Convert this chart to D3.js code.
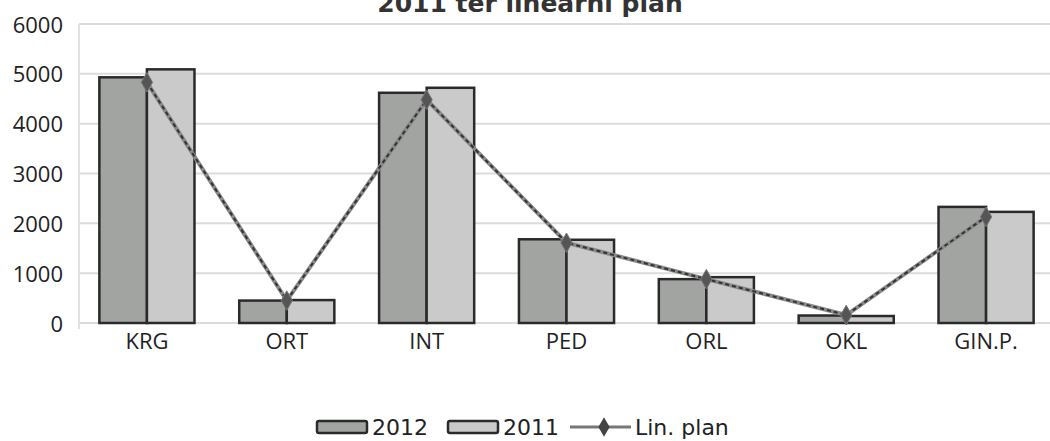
<!DOCTYPE html>
<html>
<head>
<meta charset="utf-8">
<script src="https://cdn.jsdelivr.net/npm/d3@7"></script>
<style>
  body { margin: 0; background: #fff; }
  svg { display: block; }
  text { font-family: "Open Sans", "DejaVu Sans", sans-serif; fill: #222; }
</style>
</head>
<body>
<svg id="chart" width="1050" height="441"></svg>
<script>
// Departments and yearly counts
const categories = ["KRG", "ORT", "INT", "PED", "ORL", "OKL", "GIN.P."];
const values2012 = [4930, 450, 4620, 1680, 880, 150, 2330];
const values2011 = [5090, 460, 4720, 1670, 920, 140, 2230];
const planValues = [4830, 450, 4480, 1610, 880, 160, 2130];
const yTicks = [0, 1000, 2000, 3000, 4000, 5000, 6000];
const titleText = "2011 ter linearni plan";
const seriesNames = ["2012", "2011", "Lin. plan"];

(function () {
const svg = d3.select("#chart");
const plotLeft = 77, plotRight = 1056, plotTop = 24, plotBottom = 323;

const x = d3.scaleBand().domain(categories).range([plotLeft, plotRight]).paddingInner(0.32).paddingOuter(0.16);
const xSub = d3.scaleBand().domain(["2012", "2011"]).range([0, x.bandwidth()]);
const y = d3.scaleLinear().domain([0, 6000]).range([plotBottom, plotTop]);

// Title (top partly clipped by the frame)
svg.append("text")
  .attr("x", 530).attr("y", 12)
  .attr("text-anchor", "middle")
  .style("font-family", "'DejaVu Sans', sans-serif")
  .style("font-weight", "bold").style("font-size", "25px")
  .style("fill", "#333")
  .text(titleText);

// Gridlines
svg.append("g").selectAll("line").data(yTicks).join("line")
  .attr("x1", plotLeft + 2).attr("x2", 1050)
  .attr("y1", d => y(d)).attr("y2", d => y(d))
  .attr("stroke", "#dcdcdc").attr("stroke-width", 2);

// Left frame edge
svg.append("line").attr("x1", plotLeft + 2).attr("x2", plotLeft + 2).attr("y1", plotTop).attr("y2", plotBottom + 6)
  .attr("stroke", "#e2e2e2").attr("stroke-width", 2);

// Y axis labels
const yAxis = d3.axisLeft(y).tickValues(yTicks).tickFormat(d3.format("d")).tickSize(0).tickPadding(0);
const gy = svg.append("g").attr("transform", "translate(63,1)").call(yAxis);
gy.select(".domain").remove();
gy.attr("font-size", 22).attr("font-family", "'Open Sans', sans-serif");
gy.selectAll("text").attr("fill", "#222");

// X axis labels
const xAxis = d3.axisBottom(x).tickSize(0).tickPadding(4);
const gx = svg.append("g").attr("transform", `translate(0,${plotBottom + 6})`).call(xAxis);
gx.select(".domain").remove();
gx.attr("font-size", 22).attr("font-family", "'Open Sans', sans-serif");
gx.selectAll("text").attr("fill", "#222");

// Bars
const colors = { "2012": "#a2a4a2", "2011": "#cacaca" };
const groups = svg.append("g").selectAll("g").data(categories).join("g")
  .attr("transform", d => `translate(${x(d)},0)`);
groups.selectAll("rect")
  .data((d, i) => [{ k: "2012", v: values2012[i] }, { k: "2011", v: values2011[i] }])
  .join("rect")
  .attr("x", d => xSub(d.k))
  .attr("y", d => y(d.v))
  .attr("width", xSub.bandwidth())
  .attr("height", d => y(0) - y(d.v))
  .attr("fill", d => colors[d.k])
  .attr("stroke", "#2a2a2a").attr("stroke-width", 2.5);

// Plan line
const cx = (d) => x(d) + x.bandwidth() / 2;
const line = d3.line().x((d, i) => cx(categories[i])).y(d => y(d));
svg.append("path").datum(planValues).attr("d", line)
  .attr("fill", "none").attr("stroke", "#8a8a8a").attr("stroke-width", 4);
svg.append("path").datum(planValues).attr("d", line)
  .attr("fill", "none").attr("stroke", "#333").attr("stroke-width", 2)
  .attr("stroke-dasharray", "4,3");
const diamond = d3.symbol().type(d3.symbolDiamond).size(110);
svg.append("g").selectAll("path").data(planValues).join("path")
  .attr("transform", (d, i) => `translate(${cx(categories[i])},${y(d)})`)
  .attr("d", diamond).attr("fill", "#555").attr("stroke", "#777").attr("stroke-width", 1);

// Legend
const lg = svg.append("g");
const ly = 427;
[["2012", 317], ["2011", 448]].forEach(([k, lx]) => {
  lg.append("rect").attr("x", lx).attr("y", ly - 6).attr("width", 50).attr("height", 12).attr("rx", 2)
    .attr("fill", colors[k]).attr("stroke", "#2a2a2a").attr("stroke-width", 2.5);
  lg.append("text").attr("x", lx + 55).attr("y", ly + 8).style("font-size", "22px")
    .style("font-family", "'DejaVu Sans', sans-serif").text(k);
});
lg.append("line").attr("x1", 570).attr("x2", 631).attr("y1", ly).attr("y2", ly)
  .attr("stroke", "#777").attr("stroke-width", 3);
lg.append("path").attr("transform", `translate(604,${ly})`).attr("d", diamond).attr("fill", "#444");
lg.append("text").attr("x", 635).attr("y", ly + 8).style("font-size", "22px")
  .style("font-family", "'DejaVu Sans', sans-serif").text(seriesNames[2]);
})();
</script>
</body>
</html>
